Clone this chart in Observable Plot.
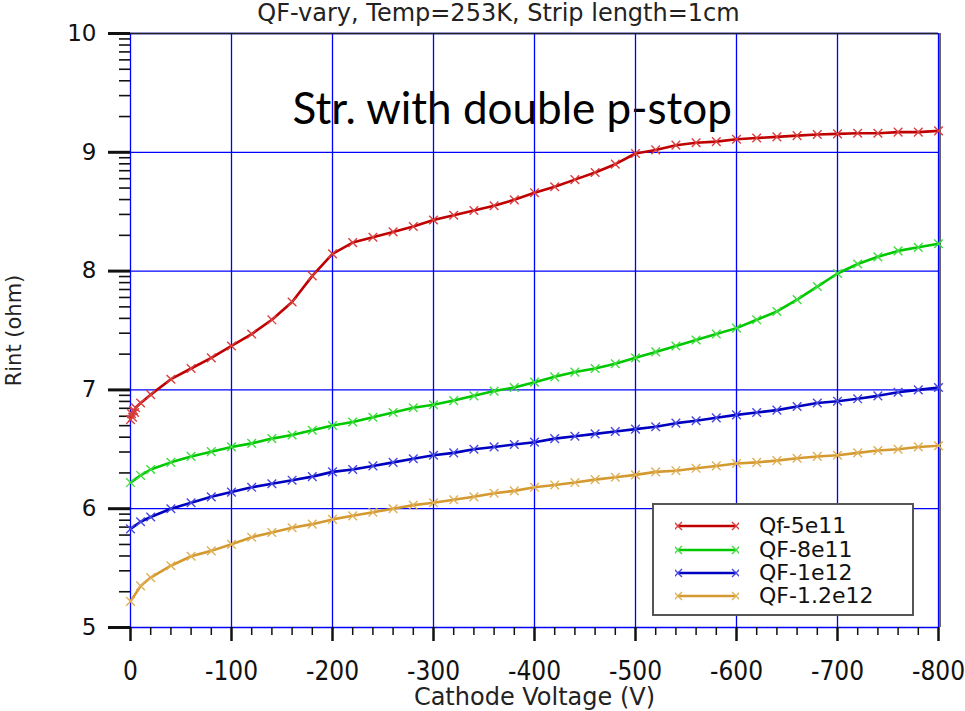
<!DOCTYPE html>
<html>
<head>
<meta charset="utf-8">
<script src="https://cdn.jsdelivr.net/npm/d3@7"></script>
<script src="https://cdn.jsdelivr.net/npm/@observablehq/plot@0.6"></script>
<style>
  html, body { margin: 0; padding: 0; background: #fff; }
  #wrap { position: relative; width: 965px; height: 711px; font-family: "DejaVu Sans", sans-serif; }
  #legend { position: absolute; left: 652px; top: 503px; width: 258px; height: 109px; border: 2px solid #555; background: #fff; }
  .row { position: absolute; left: 0; height: 22px; display: flex; align-items: center; }
  .row svg { margin-left: 21px; }
  .row span { margin-left: 20px; font-size: 22px; line-height: 22px; color: #111; font-family: "DejaVu Sans", sans-serif; }
  .xt text { font-stretch: condensed; }
</style>
</head>
<body>
<div id="wrap"></div>
<script>
const chartTitle = "QF-vary, Temp=253K, Strip length=1cm";
const annotation = "Str. with double p-stop";
const xLabel = "Cathode Voltage (V)";
const yLabel = "Rint (ohm)";

const seriesNames = ["Qf-5e11", "QF-8e11", "QF-1e12", "QF-1.2e12"];
const lineColors = ["#c00000", "#00c800", "#0000c0", "#d49a30"];
const markColors = ["#d84040", "#40dc40", "#4848e0", "#e0b058"];

const xTicks = [0, -100, -200, -300, -400, -500, -600, -700, -800];
const yTicks = [5, 6, 7, 8, 9, 10];

// common voltage points
const voltages = [0, -10, -20, -40, -60, -80, -100, -120, -140, -160, -180, -200,
  -220, -240, -260, -280, -300, -320, -340, -360, -380, -400, -420, -440, -460, -480,
  -500, -520, -540, -560, -580, -600, -620, -640, -660, -680, -700, -720, -740, -760, -780, -800];

// extra dense start points of Qf-5e11
const redStartV = [-1, -2, -3, -4, -5];
const redStartR = [6.80, 6.77, 6.83, 6.81, 6.85];

const qf5e11 = [6.75, 6.89, 6.96, 7.09, 7.18, 7.27, 7.37, 7.47, 7.59, 7.74, 7.96, 8.145,
  8.24, 8.285, 8.33, 8.375, 8.43, 8.47, 8.51, 8.55, 8.60, 8.66, 8.71, 8.77, 8.83, 8.90,
  8.99, 9.02, 9.06, 9.08, 9.09, 9.11, 9.12, 9.13, 9.14, 9.15, 9.155, 9.16, 9.16, 9.17, 9.17, 9.18];
const qf8e11 = [6.22, 6.28, 6.33, 6.39, 6.44, 6.48, 6.52, 6.55, 6.59, 6.62, 6.66, 6.70,
  6.73, 6.77, 6.81, 6.85, 6.875, 6.91, 6.95, 6.99, 7.02, 7.065, 7.11, 7.15, 7.18, 7.22,
  7.27, 7.32, 7.37, 7.42, 7.47, 7.52, 7.59, 7.66, 7.76, 7.87, 7.98, 8.06, 8.12, 8.17, 8.20, 8.23];
const qf1e12 = [5.83, 5.89, 5.93, 6.00, 6.05, 6.10, 6.14, 6.18, 6.21, 6.24, 6.27, 6.31,
  6.33, 6.36, 6.39, 6.42, 6.45, 6.47, 6.50, 6.52, 6.54, 6.56, 6.59, 6.61, 6.63, 6.65,
  6.67, 6.69, 6.72, 6.74, 6.765, 6.79, 6.81, 6.83, 6.86, 6.89, 6.905, 6.925, 6.95, 6.98, 7.00, 7.02];
const qf12e12 = [5.22, 5.35, 5.42, 5.52, 5.60, 5.645, 5.70, 5.76, 5.80, 5.84, 5.87, 5.91,
  5.94, 5.97, 6.00, 6.03, 6.05, 6.075, 6.10, 6.13, 6.15, 6.18, 6.20, 6.22, 6.245, 6.265,
  6.285, 6.31, 6.32, 6.34, 6.36, 6.38, 6.39, 6.405, 6.425, 6.44, 6.45, 6.47, 6.49, 6.50, 6.52, 6.53];

// build table
const rows = [];
[qf5e11, qf8e11, qf1e12, qf12e12].forEach((vals, s) => {
  const pts = voltages.map((v, i) => ({ v, r: vals[i], s: seriesNames[s] }));
  if (s === 0) {
    const extra = redStartV.map((v, i) => ({ v, r: redStartR[i], s: seriesNames[0] }));
    pts.splice(1, 0, ...extra);
  }
  rows.push(...pts);
});

const xMinor = d3.range(0, -801, -20).filter(d => d % 100 !== 0);
const yMinor = [];
for (let m = 5; m < 10; m++) for (let k = 2; k <= 9; k++) yMinor.push(m + Math.log10(k));

const colorScale = { domain: seriesNames, range: lineColors };

const chart = Plot.plot({
  width: 965,
  height: 711,
  marginLeft: 130,
  marginRight: 27,
  marginTop: 33,
  marginBottom: 84,
  style: { fontFamily: "DejaVu Sans, sans-serif", color: "#111", background: "#fff", overflow: "visible" },
  x: { domain: [0, -800], axis: null },
  y: { domain: [5, 10], axis: null },
  color: colorScale,
  marks: [
    Plot.text([annotation], { text: d => d, frameAnchor: "top-left", textAnchor: "start", lineAnchor: "bottom", dx: 162, dy: 90, fontSize: 44, fontFamily: "Lato, sans-serif", fill: "#000" }),
    Plot.gridX(xTicks, { stroke: "#0000ff", strokeOpacity: 1, strokeWidth: 1.3 }),
    Plot.gridY(yTicks, { stroke: "#0000ff", strokeOpacity: 1, strokeWidth: 1.3 }),
    Plot.ruleY([10], { stroke: "#222", strokeWidth: 1.5 }),
    Plot.ruleX([-800], { stroke: "#666", strokeWidth: 2, dx: 1.5 }),
    Plot.axisX(xTicks, { anchor: "bottom", tickSize: 14, tickPadding: 20, strokeWidth: 2.5, fontSize: 26, fontFamily: "'DejaVu Sans Condensed', 'DejaVu Sans', sans-serif", className: "xt", tickFormat: d => String(d), label: null }),
    Plot.axisX(xMinor, { anchor: "bottom", tickSize: 8, strokeWidth: 1.5, tickFormat: () => "", label: null }),
    Plot.axisY(yTicks, { anchor: "left", tickSize: 22, tickPadding: 12, strokeWidth: 3, fontSize: 23, tickFormat: d => String(d), label: null }),
    Plot.axisY(yMinor, { anchor: "left", tickSize: 11, strokeWidth: 1.6, tickFormat: () => "", label: null }),
    Plot.line(rows, { x: "v", y: "r", z: "s", stroke: "s", strokeWidth: 2.6 }),
    Plot.dot(rows, { x: "v", y: "r", symbol: "times", r: 4, stroke: d => markColors[seriesNames.indexOf(d.s)], strokeWidth: 1.4 }),
    Plot.text([chartTitle], { text: d => d, frameAnchor: "top", dx: -36, dy: -20, lineAnchor: "middle", fontSize: 24, fill: "#222" }),
    Plot.text([xLabel], { text: d => d, frameAnchor: "bottom", dy: 70, lineAnchor: "middle", fontSize: 24, fill: "#222" }),
    Plot.text([yLabel], { text: d => d, frameAnchor: "left", textAnchor: "middle", dx: -116, rotate: -90, lineAnchor: "middle", fontSize: 21, fill: "#222" })
  ]
});

const wrap = document.getElementById("wrap");
wrap.appendChild(chart);

// legend
const legend = document.createElement("div");
legend.id = "legend";
const rowTops = [10, 34, 57, 80];
seriesNames.forEach((name, i) => {
  const row = document.createElement("div");
  row.className = "row";
  row.style.top = rowTops[i] + "px";
  const c = lineColors[i], m = markColors[i];
  row.innerHTML = `<svg width="64" height="14" viewBox="0 0 64 14">
    <line x1="3" y1="7" x2="61" y2="7" stroke="${c}" stroke-width="2.6"/>
    <path d="M-1,3 L7,11 M-1,11 L7,3" stroke="${m}" stroke-width="1.4"/>
    <path d="M57,3 L65,11 M57,11 L65,3" stroke="${m}" stroke-width="1.4"/>
  </svg><span>${name}</span>`;
  legend.appendChild(row);
});
wrap.appendChild(legend);
</script>
</body>
</html>
